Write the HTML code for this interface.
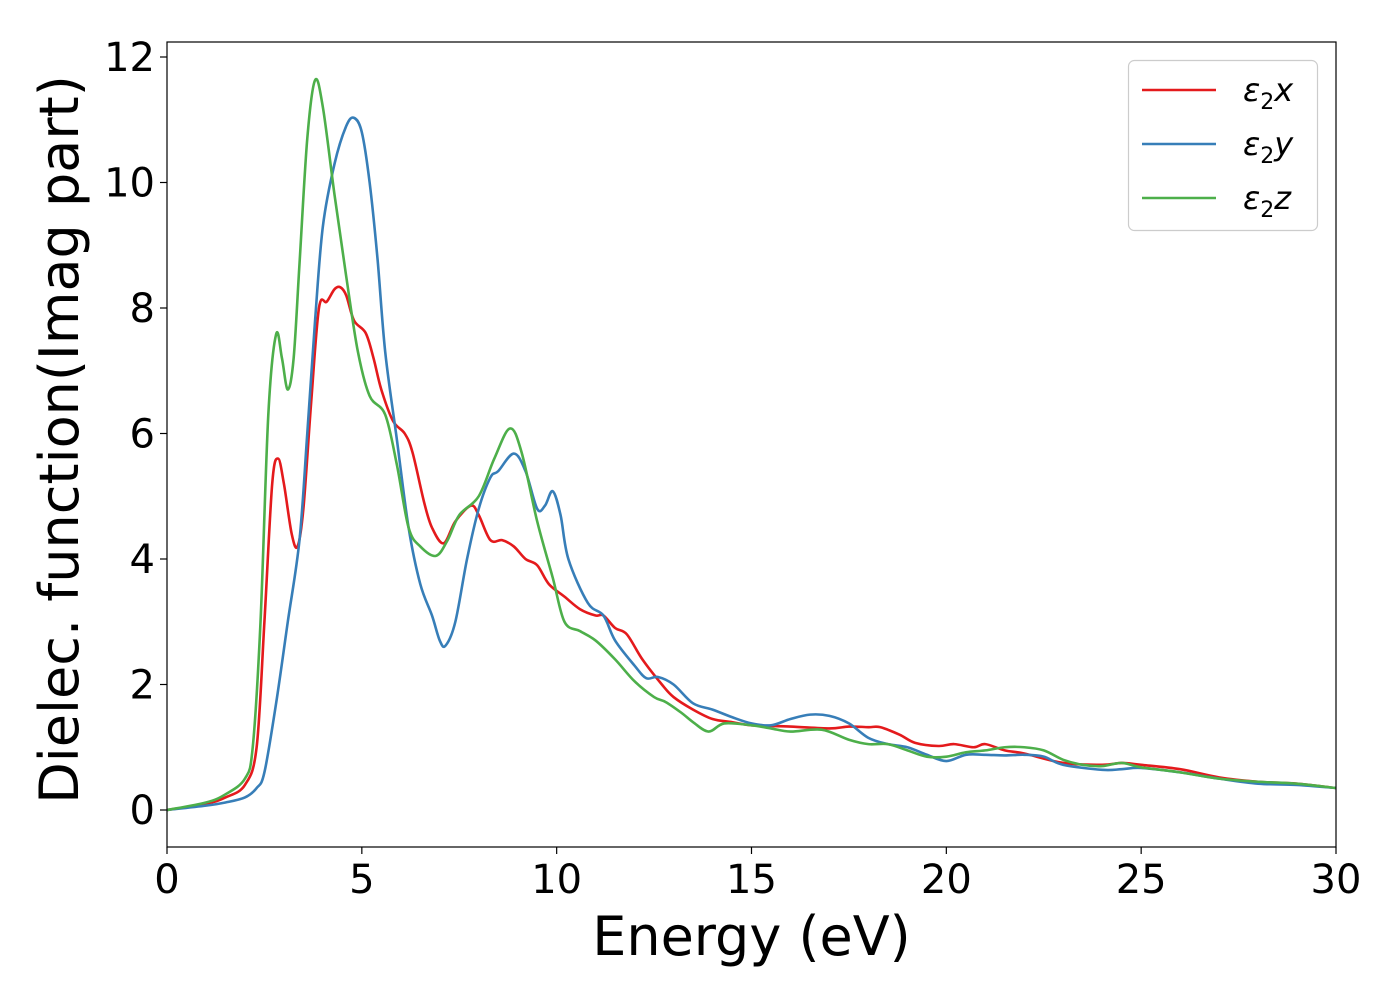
<!DOCTYPE html>
<html><head><meta charset="utf-8"><style>
html,body{margin:0;padding:0;background:#fff;}
svg text{font-family:"DejaVu Sans","Liberation Sans",sans-serif;fill:#000;}
</style></head><body>
<svg id="chart" width="1400" height="1000" xmlns="http://www.w3.org/2000/svg">
<g id="plot"></g>
</svg>
<script>
const xTicks=[0,5,10,15,20,25,30];
const yTicks=[0,2,4,6,8,10,12];
const seriesNames=["ε₂x","ε₂y","ε₂z"];
const redX=[0,1,1.5,2,2.3,2.5,2.7,2.85,3.0,3.2,3.35,3.5,3.7,3.9,4.1,4.3,4.45,4.6,4.8,5.1,5.3,5.5,5.8,6.1,6.3,6.6,6.8,7.1,7.4,7.8,8.0,8.3,8.6,8.9,9.2,9.5,9.8,10.2,10.6,11,11.2,11.5,11.8,12.2,12.7,13,13.5,14,14.5,15,16,17,17.5,18,18.3,18.8,19.2,19.8,20.2,20.7,21,21.5,22,23,24,24.5,25,26,27,28,29,30];
const redY=[0,0.1,0.2,0.4,1.0,3,5.2,5.6,5.2,4.4,4.2,4.8,6.5,8.0,8.1,8.3,8.33,8.2,7.8,7.6,7.2,6.7,6.2,6.0,5.7,4.9,4.5,4.25,4.6,4.85,4.7,4.3,4.3,4.2,4.0,3.9,3.6,3.4,3.2,3.1,3.1,2.9,2.8,2.4,2.0,1.8,1.6,1.45,1.4,1.35,1.33,1.3,1.33,1.32,1.32,1.2,1.07,1.02,1.05,1.0,1.05,0.95,0.9,0.75,0.72,0.75,0.72,0.65,0.52,0.45,0.42,0.35];
const blueX=[0,1,1.5,2,2.3,2.5,2.8,3.1,3.4,3.6,3.8,4.0,4.3,4.6,4.8,5.0,5.2,5.4,5.6,5.9,6.2,6.5,6.8,7.0,7.15,7.4,7.7,8.0,8.3,8.5,8.9,9.2,9.5,9.7,9.9,10.1,10.3,10.8,11.2,11.5,12,12.3,12.6,13,13.5,14,14.5,15,15.5,16,16.5,17,17.5,18,18.5,19,19.5,20,20.5,21,21.5,22,22.5,23,24,24.5,25,26,27,28,29,30];
const blueY=[0,0.07,0.12,0.2,0.35,0.6,1.7,3.0,4.3,6.0,7.8,9.3,10.3,10.9,11.03,10.8,10.0,8.8,7.3,5.9,4.5,3.6,3.1,2.7,2.62,3.0,4.0,4.8,5.3,5.4,5.68,5.4,4.8,4.85,5.08,4.7,4.0,3.3,3.1,2.7,2.3,2.1,2.12,2.0,1.7,1.6,1.48,1.38,1.35,1.45,1.52,1.5,1.38,1.15,1.05,1.0,0.88,0.78,0.88,0.88,0.87,0.88,0.85,0.72,0.64,0.65,0.67,0.6,0.5,0.42,0.4,0.35];
const greenX=[0,1,1.5,2,2.2,2.4,2.6,2.8,2.95,3.1,3.25,3.4,3.6,3.8,4.0,4.3,4.6,4.9,5.2,5.6,5.9,6.2,6.5,6.9,7.2,7.5,8,8.4,8.8,9.1,9.5,9.9,10.2,10.6,11,11.5,12,12.5,12.8,13.2,13.5,13.9,14.3,15,15.5,16,16.8,17.5,18,18.5,19,19.5,20,20.5,21,21.5,22,22.5,23,23.5,24,24.5,25,26,27,28,29,30];
const greenY=[0,0.12,0.25,0.5,1.0,3.0,6.3,7.58,7.2,6.7,7.2,8.7,10.7,11.63,11.2,9.8,8.5,7.3,6.6,6.3,5.5,4.5,4.2,4.05,4.3,4.7,5.0,5.6,6.08,5.7,4.6,3.7,3.0,2.85,2.7,2.4,2.05,1.8,1.72,1.55,1.4,1.25,1.38,1.35,1.3,1.25,1.28,1.12,1.05,1.05,0.95,0.85,0.85,0.92,0.95,1.0,1.0,0.95,0.8,0.72,0.7,0.75,0.68,0.6,0.5,0.45,0.42,0.35];

const L=167,R=1336,T=42,B=847;
const xs=v=>L+(v-0)/30*(R-L);
const ys=v=>810-v*62.75;
const NS="http://www.w3.org/2000/svg";
const g=document.getElementById('plot');
function mk(t,a,p){const e=document.createElementNS(NS,t);for(const k in a)e.setAttribute(k,a[k]);(p||g).appendChild(e);return e;}
function spline(X,Y){
  const P=X.map((x,i)=>[xs(x),ys(Y[i])]);
  let d=`M${P[0][0]},${P[0][1]}`;
  for(let i=0;i<P.length-1;i++){
    const p0=P[Math.max(i-1,0)],p1=P[i],p2=P[i+1],p3=P[Math.min(i+2,P.length-1)];
    const c1=[p1[0]+(p2[0]-p0[0])/6,p1[1]+(p2[1]-p0[1])/6];
    const c2=[p2[0]-(p3[0]-p1[0])/6,p2[1]-(p3[1]-p1[1])/6];
    d+=`C${c1[0]},${c1[1]} ${c2[0]},${c2[1]} ${p2[0]},${p2[1]}`;
  }
  return d;
}
const cp=mk('clipPath',{id:'clip'});mk('rect',{x:L,y:T,width:R-L,height:B-T},cp);
const colors=["#e41a1c","#377eb8","#4daf4a"];
const data=[[redX,redY],[blueX,blueY],[greenX,greenY]];
const lineNames=['line-eps2x','line-eps2y','line-eps2z'];
data.forEach((s,i)=>{
  const p=mk('path',{d:spline(s[0],s[1]),fill:'none',stroke:colors[i],'stroke-width':2.6,'clip-path':'url(#clip)'});
  
  
});
const fr=mk('rect',{x:L,y:T,width:R-L,height:B-T,fill:'none',stroke:'#000','stroke-width':1.2});


xTicks.forEach(v=>{
  mk('line',{x1:xs(v),x2:xs(v),y1:B,y2:B+7,stroke:'#000','stroke-width':1.2});
  const t=mk('text',{x:xs(v),y:B+46,'text-anchor':'middle','font-size':40});t.textContent=v;
  
  
});
yTicks.forEach(v=>{
  mk('line',{x1:L-7,x2:L,y1:ys(v),y2:ys(v),stroke:'#000','stroke-width':1.2});
  const t=mk('text',{x:L-12,y:ys(v)+14,'text-anchor':'end','font-size':40});t.textContent=v;
  
  
});
const xl=mk('text',{x:(L+R)/2,y:955,'text-anchor':'middle','font-size':54});xl.textContent='Energy (eV)';


const yl=mk('text',{x:0,y:0,'text-anchor':'middle','font-size':54,transform:`translate(78,${(T+B)/2-5}) rotate(-90)`});yl.textContent='Dielec. function(Imag part)';


const lg=mk('g',{});


mk('rect',{x:1128.5,y:60.5,width:189,height:170,rx:6,fill:'#fff',stroke:'#ccc','stroke-width':1.2},lg);
seriesNames.forEach((n,i)=>{
  const y=90+i*54;
  const e=mk('g',{},lg);
  
  
  mk('line',{x1:1142,x2:1216,y1:y,y2:y,stroke:colors[i],'stroke-width':2.6},e);
  const t=mk('text',{x:1243,y:y+11,'font-size':32,'font-style':'italic'},e);
  t.innerHTML=`ε<tspan font-style="normal" font-size="22" dy="8">2</tspan><tspan dy="-8">${['x','y','z'][i]}</tspan>`;
});
</script>
</body></html>
